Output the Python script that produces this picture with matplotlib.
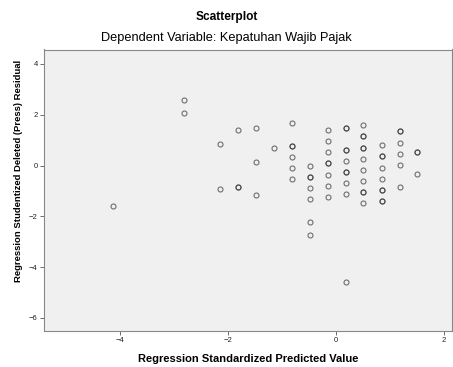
import numpy as np
import matplotlib as mpl
import matplotlib.pyplot as plt

mpl.rcParams['font.family'] = ['Liberation Sans', 'DejaVu Sans']
mpl.rcParams['xtick.labelsize'] = 5.5
mpl.rcParams['ytick.labelsize'] = 5.5

# predicted values (x) and residuals (y), one entry per case; repeats = overlapping cases
pred = [-2.81, -2.81, -1.81, -2.14, -2.14, -1.81, -1.81, -4.13,
        -1.48, -1.48, -1.48, -0.82, -0.82, -0.82, -0.82, -0.82, -0.82, -1.15,
        -0.49, -0.49, -0.49, -0.49, -0.49, -0.49, -0.49,
        -0.15, -0.15, -0.15, -0.15, -0.15, -0.15, -0.15, -0.15,
        0.18, 0.18, 0.18, 0.18, 0.18, 0.18, 0.18, 0.18, 0.18, 0.18,
        0.51, 0.51, 0.51, 0.51, 0.51, 0.51, 0.51, 0.51, 0.51, 0.51, 0.51,
        0.85, 0.85, 0.85, 0.85, 0.85, 0.85, 0.85, 0.85, 0.85,
        1.18, 1.18, 1.18, 1.18, 1.18, 1.18,
        1.51, 1.51, 1.51]
resid = [2.57, 2.08, 1.40, 0.86, -0.93, -0.84, -0.84, -1.61,
         1.49, 0.15, -1.18, 1.66, 0.77, 0.77, 0.34, -0.11, -0.55, 0.68,
         -0.02, -0.45, -0.45, -0.89, -1.33, -2.24, -2.73,
         1.40, 0.95, 0.52, 0.09, 0.09, -0.36, -0.80, -1.23,
         1.49, 1.49, 0.61, 0.61, 0.17, -0.26, -0.26, -0.70, -1.14, -4.60,
         1.60, 1.15, 1.15, 0.70, 0.70, 0.27, -0.17, -0.60, -1.04, -1.04, -1.49,
         0.80, 0.36, 0.36, -0.09, -0.52, -0.95, -0.95, -1.40, -1.40,
         1.35, 1.35, 0.90, 0.45, 0.02, -0.86,
         0.54, 0.54, -0.32]

xticks = [-4, -2, 0, 2]
yticks = [-6, -4, -2, 0, 2, 4]

fig = plt.figure(figsize=(4.53, 3.67), dpi=100)
ax = fig.add_axes([44 / 453, 36 / 367, 408 / 453, 281.5 / 367])
ax.set_facecolor('#f0f0f0')

ax.plot(pred, resid, 'o', ms=3.6, mfc='none', mec='#2a2a2a', mew=0.8, alpha=0.65)

ax.set_xlim(-5.41, 2.15)
ax.set_ylim(-6.52, 4.57)
ax.set_xticks(xticks)
ax.set_yticks(yticks)
ax.tick_params(length=3, width=0.6, color='#555555', pad=1.5, labelcolor='#222222')
for s in ax.spines.values():
    s.set_color('#888888')
    s.set_linewidth(0.8)

ax.set_xlabel('Regression Standardized Predicted Value', fontsize=8, fontweight='bold', labelpad=7)
ax.set_ylabel('Regression Studentized Deleted (Press) Residual', fontsize=6.8, fontweight='bold')
ax.yaxis.set_label_coords(-0.052, 0.57)

fig.text(0.5, 1 - 17 / 367, 'Scatterplot', ha='center', va='center', fontsize=8.6, fontweight='bold')
fig.text(0.5, 1 - 38 / 367, 'Dependent Variable: Kepatuhan Wajib Pajak', ha='center', va='center', fontsize=9.2)

plt.savefig('out.png', dpi=100)
